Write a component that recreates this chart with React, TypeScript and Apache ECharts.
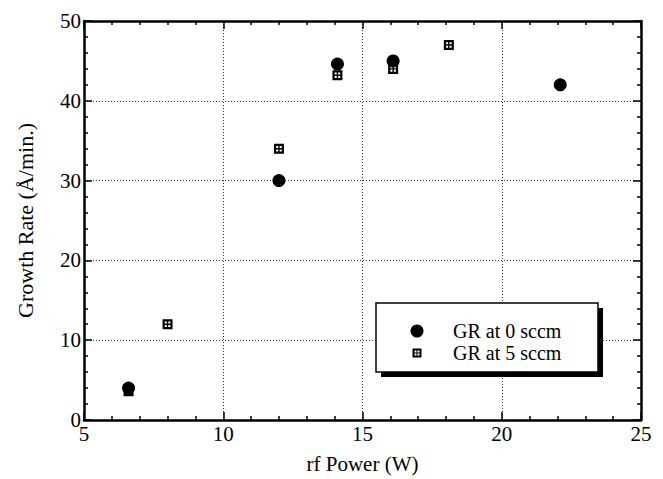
import React, { useEffect, useRef } from "react";
import * as echarts from "echarts";

const power0 = [6.6, 12, 14.1, 16.1, 22.1];
const rate0 = [4, 30, 44.6, 45, 42];
const power5 = [6.6, 8, 12, 14.1, 16.1, 18.1];
const rate5 = [3.6, 12, 34, 43.2, 44, 47];
const seriesNames = ["GR at 0 sccm", "GR at 5 sccm"];
const xTitle = "rf Power (W)";
const yTitle = "Growth Rate (Å/min.)";

const SQ_PATH =
  "path://M0,0 H10 V10 H0 Z M2.2,2.2 V4.3 H4.3 V2.2 Z M5.7,2.2 V4.3 H7.8 V2.2 Z M2.2,5.7 V7.8 H4.3 V5.7 Z M5.7,5.7 V7.8 H7.8 V5.7 Z";

const FONT = "Liberation Serif";

export default function App() {
  const ref = useRef<HTMLDivElement>(null);
  useEffect(() => {
    if (!ref.current) return;
    const chart = echarts.init(ref.current, undefined, { renderer: "svg" });
    const axisLine = { show: true, onZero: false, lineStyle: { color: "#000", width: 2.5 } };
    const axisTick = { show: true, inside: true, length: 8, lineStyle: { color: "#000", width: 1.5 } };
    const minorTick = { show: true, splitNumber: 5, length: 4, lineStyle: { color: "#000", width: 1.5 } };
    const splitLine = { show: true, lineStyle: { color: "#333", type: [1, 2], width: 1 } };
    const label = { color: "#000", fontFamily: FONT, fontSize: 21 };
    const xBase = { type: "value", min: 5, max: 25, interval: 5 };
    const yBase = { type: "value", min: 0, max: 50, interval: 10 };
    const legendText = (text: string, y: number) => ({
      type: "text",
      x: 453,
      y,
      style: { text, fill: "#000", fontFamily: FONT, fontSize: 20, verticalAlign: "middle" },
      z: 12,
    });
    const option: any = {
      animation: false,
      backgroundColor: "#fff",
      grid: { left: 84, right: 22, top: 21, bottom: 57, containLabel: false },
      xAxis: [
        {
          ...xBase,
          position: "bottom",
          axisLine,
          axisTick,
          minorTick,
          splitLine,
          axisLabel: { ...label, margin: 3 },
          name: xTitle,
          nameLocation: "middle",
          nameGap: 33,
          nameTextStyle: { color: "#000", fontFamily: FONT, fontSize: 21 },
        },
        {
          ...xBase,
          position: "top",
          axisLine,
          axisTick,
          minorTick,
          splitLine: { show: false },
          axisLabel: { show: false },
        },
      ],
      yAxis: [
        {
          ...yBase,
          position: "left",
          axisLine,
          axisTick,
          minorTick,
          splitLine,
          axisLabel: { ...label, margin: 3 },
          name: yTitle,
          nameLocation: "middle",
          nameGap: 48,
          nameTextStyle: { color: "#000", fontFamily: FONT, fontSize: 22 },
        },
        {
          ...yBase,
          position: "right",
          axisLine,
          axisTick,
          minorTick,
          splitLine: { show: false },
          axisLabel: { show: false },
        },
      ],
      series: [
        {
          name: seriesNames[0],
          type: "scatter",
          symbol: "circle",
          symbolSize: 13,
          itemStyle: { color: "#000", opacity: 1 },
          data: power0.map((x, i) => [x, rate0[i]]),
          z: 3,
        },
        {
          name: seriesNames[1],
          type: "scatter",
          symbol: SQ_PATH,
          symbolSize: 10,
          itemStyle: { color: "#000", opacity: 1 },
          data: power5.map((x, i) => [x, rate5[i]]),
          z: 4,
        },
      ],
      graphic: [
        { type: "rect", shape: { x: 381, y: 308, width: 222, height: 69 }, style: { fill: "#000" }, z: 10 },
        {
          type: "rect",
          shape: { x: 376, y: 303, width: 222, height: 69 },
          style: { fill: "#fff", stroke: "#000", lineWidth: 1.5 },
          z: 11,
        },
        { type: "circle", shape: { cx: 417, cy: 331, r: 6.5 }, style: { fill: "#000" }, z: 12 },
        { type: "rect", shape: { x: 412.5, y: 348.5, width: 9, height: 9 }, style: { fill: "#000" }, z: 12 },
        { type: "rect", shape: { x: 414.5, y: 350.5, width: 2, height: 2 }, style: { fill: "#fff" }, z: 13 },
        { type: "rect", shape: { x: 417.5, y: 350.5, width: 2, height: 2 }, style: { fill: "#fff" }, z: 13 },
        { type: "rect", shape: { x: 414.5, y: 353.5, width: 2, height: 2 }, style: { fill: "#fff" }, z: 13 },
        { type: "rect", shape: { x: 417.5, y: 353.5, width: 2, height: 2 }, style: { fill: "#fff" }, z: 13 },
        legendText(seriesNames[0], 331),
        legendText(seriesNames[1], 353),
      ],
    };
    chart.setOption(option);
    return () => chart.dispose();
  }, []);
  return <div ref={ref} style={{ width: 663, height: 479, position: "absolute", left: 0, top: 0 }} />;
}
